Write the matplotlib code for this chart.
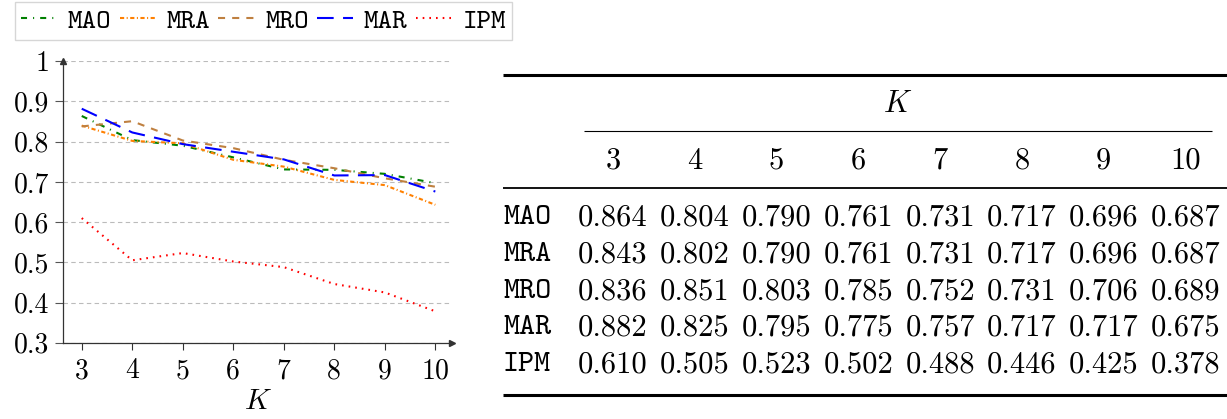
import matplotlib
matplotlib.use("Agg")
import matplotlib.pyplot as plt

# Data
k_values = [3, 4, 5, 6, 7, 8, 9, 10]
methods = ["MAO", "MRA", "MRO", "MAR", "IPM"]

# plotted curves (as drawn in the left panel)
mao_line = [0.864, 0.804, 0.790, 0.761, 0.731, 0.730, 0.720, 0.697]
mra_line = [0.840, 0.802, 0.796, 0.755, 0.738, 0.705, 0.692, 0.643]
mro_line = [0.838, 0.851, 0.803, 0.784, 0.755, 0.734, 0.709, 0.688]
mar_line = [0.882, 0.823, 0.794, 0.775, 0.756, 0.716, 0.717, 0.676]
ipm_line = [0.610, 0.505, 0.523, 0.502, 0.488, 0.446, 0.425, 0.378]

# table values (right panel)
table_mao = ["0.864", "0.804", "0.790", "0.761", "0.731", "0.717", "0.696", "0.687"]
table_mra = ["0.843", "0.802", "0.790", "0.761", "0.731", "0.717", "0.696", "0.687"]
table_mro = ["0.836", "0.851", "0.803", "0.785", "0.752", "0.731", "0.706", "0.689"]
table_mar = ["0.882", "0.825", "0.795", "0.775", "0.757", "0.717", "0.717", "0.675"]
table_ipm = ["0.610", "0.505", "0.523", "0.502", "0.488", "0.446", "0.425", "0.378"]

y_ticks = [0.3, 0.4, 0.5, 0.6, 0.7, 0.8, 0.9, 1.0]
y_tick_labels = ["0.3", "0.4", "0.5", "0.6", "0.7", "0.8", "0.9", "1"]

plt.rcParams["mathtext.fontset"] = "cm"
plt.rcParams["axes.unicode_minus"] = False

W, H = 1227, 419
fig = plt.figure(figsize=(W / 100, H / 100), dpi=100)


def fx(px):
    return px / W


def fy(py):
    return 1 - py / H


# ---------------- left panel: line plot ----------------
ax = fig.add_axes([fx(63.3), fy(342.7), fx(452) - fx(63.3), fy(61.3) - fy(342.7)])

styles = [
    (mao_line, "green", (0, (2.9, 2.9, 0.5, 2.9))),
    (mra_line, "#ff8000", (0, (2.0, 1.2, 0.5, 1.2))),
    (mro_line, "#bf8040", (0, (3.4, 3.4))),
    (mar_line, "blue", (0, (8.0, 4.5))),
    (ipm_line, "red", (0, (0.8, 2.4))),
]
handles = []
for (vals, col, ls), name in zip(styles, methods):
    h, = ax.plot(k_values, vals, color=col, linestyle=ls, linewidth=1.5, label=name)
    handles.append(h)

ax.set_xlim(2.635, 10.33)
ax.set_ylim(0.3, 1.0)
ax.set_yticks(y_ticks)
ax.set_yticklabels(y_tick_labels, fontfamily="cmr10", fontsize=20)
ax.set_xticks(k_values)
ax.set_xticklabels([str(k) for k in k_values], fontfamily="cmr10", fontsize=20)
ax.tick_params(axis="y", length=6, width=0.8, color="#555555", pad=4)
ax.tick_params(axis="x", length=5, width=0.8, color="#333333", pad=6)
ax.yaxis.grid(True, linestyle=(0, (4, 3)), color="#bbbbbb", linewidth=0.8)
ax.set_axisbelow(True)
for side in ["top", "right"]:
    ax.spines[side].set_visible(False)
for side in ["left", "bottom"]:
    ax.spines[side].set_color("#333333")
    ax.spines[side].set_linewidth(0.9)
# arrow heads at the end of both axes
ax.plot(1, 0, marker=">", color="#333333", markersize=4, transform=ax.transAxes, clip_on=False)
ax.plot(0, 1, marker="^", color="#333333", markersize=4, transform=ax.transAxes, clip_on=False)
ax.set_xlabel("$K$", fontsize=21, labelpad=2)

fig.legend(handles, methods, loc="upper left", bbox_to_anchor=(fx(15), fy(2)),
           ncol=5, prop={"family": "cmtt10", "size": 20}, frameon=True,
           fancybox=False, edgecolor="#cccccc", borderaxespad=0,
           handlelength=1.3, handletextpad=0.38, columnspacing=0.3, borderpad=0.22)

# ---------------- right panel: table ----------------
tx = fig.add_axes([fx(503), fy(398), fx(1227) - fx(503), fy(72) - fy(398)])
tx.set_xlim(503, 1227)
tx.set_ylim(398, 72)
tx.axis("off")

col_x = [613 + 81.8 * i for i in range(len(k_values))]
row_y = [218, 255, 291.5, 328, 365]
rows = [table_mao, table_mra, table_mro, table_mar, table_ipm]

tx.hlines(75, 503, 1227, color="black", linewidth=2.2)
tx.hlines(131.5, 584, 1212, color="black", linewidth=0.8)
tx.hlines(188, 503, 1227, color="black", linewidth=1.3)
tx.hlines(395, 503, 1227, color="black", linewidth=2.2)

tx.text((584 + 1212) / 2, 104, "$K$", fontsize=22, ha="center", va="center")
for cx, k in zip(col_x, k_values):
    tx.text(cx, 161, str(k), fontfamily="cmr10", fontsize=22, ha="center", va="center")
for ry, name, vals in zip(row_y, methods, rows):
    tx.text(503, ry, name, fontfamily="cmtt10", fontsize=22, ha="left", va="center")
    for cx, v in zip(col_x, vals):
        tx.text(cx, ry, v, fontfamily="cmr10", fontsize=22, ha="center", va="center")

fig.savefig("out.png", dpi=100)
